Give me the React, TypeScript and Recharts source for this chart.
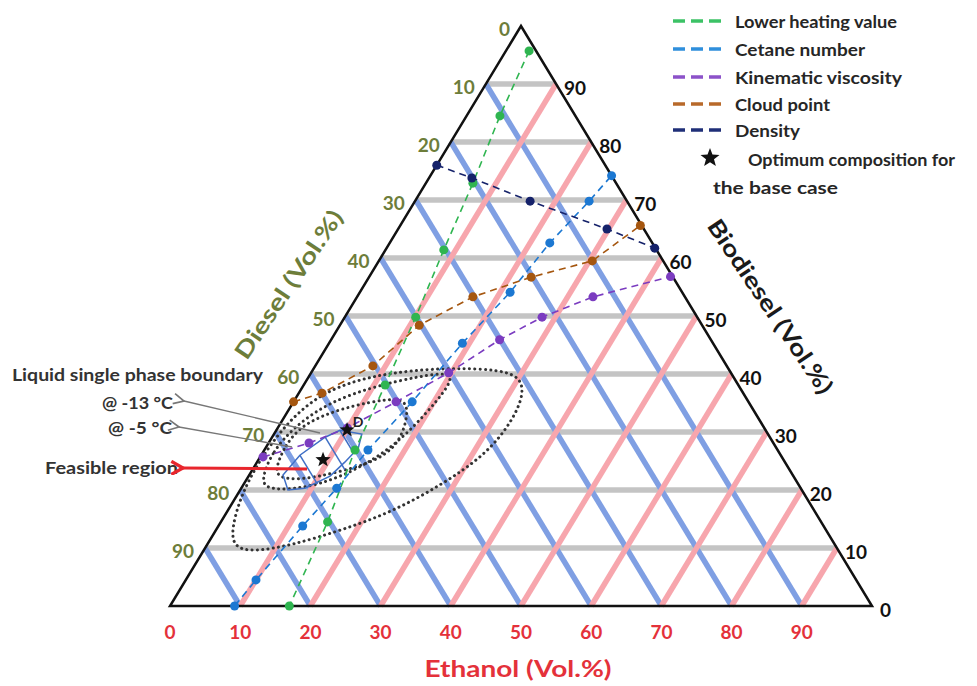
import React from "react";
import { ComposedChart, Line, Scatter, XAxis, YAxis } from "recharts";

// ternary points are [ethanol, biodiesel] in vol.% (diesel = 100 - both)
type Pt = [number, number];

const ethanolTicks = [0, 10, 20, 30, 40, 50, 60, 70, 80, 90];
const dieselTicks = [0, 10, 20, 30, 40, 50, 60, 70, 80, 90];
const biodieselTicks = [0, 10, 20, 30, 40, 50, 60, 70, 80, 90];
const gridLevels = [10, 20, 30, 40, 50, 60, 70, 80, 90];

const lowerHeatingValue: Pt[] = [
  [3.3, 95.7], [4.75, 84.5], [6.7, 72.9], [8.3, 61.4], [10.1, 49.8],
  [11.6, 38.1], [12.9, 26.9], [15.2, 14.5], [17.0, 0],
];
const cetaneNumber: Pt[] = [
  [9.2, 0], [10.0, 4.5], [12.0, 13.8], [13.6, 20.3], [14.75, 26.9], [16.9, 35.2],
  [19.0, 45.3], [21.4, 54.1], [22.8, 62.6], [24.8, 69.8], [25.8, 74.2],
];
const kinematicViscosity: Pt[] = [
  [0.4, 25.7], [5.75, 28.1], [9.9, 30.7], [14.6, 35.2], [19.6, 40.2],
  [24.0, 45.9], [28.1, 49.8], [33.6, 53.3], [42.9, 56.8],
];
const cloudPoint: Pt[] = [
  [0, 35.2], [3.3, 36.7], [8.2, 41.4], [11.3, 48.4], [16.5, 53.3],
  [23.1, 56.7], [30.4, 59.5], [34.2, 65.6],
];
const density: Pt[] = [[0, 76], [6.1, 73.8], [16.4, 69.8], [29.75, 65.0], [38.2, 61.7]];

// liquid single phase boundaries (dotted) and feasible region
const boundaryOuter: Pt[] = [
  [29.4, 40.3], [22.9, 41.0], [16.9, 40.9], [11.5, 40.2], [7.3, 39.0], [3.65, 36.9],
  [1.5, 33.4], [0.5, 29.0], [0.2, 23.8], [0.7, 18.6], [2.1, 13.4], [3.9, 10.2],
  [7.05, 9.3], [12.15, 10.5], [17.95, 13.1], [23.5, 16.2], [28.25, 20.9],
  [31.9, 26.0], [32.85, 31.7], [32.15, 36.9],
];
const boundaryMinus13: Pt[] = [
  [2.05, 22.1], [1.25, 26.55], [2.35, 31.2], [5.2, 35.2], [10.25, 37.9], [15.8, 39.65],
  [20.0, 40.35], [20.85, 38.1], [19.85, 32.9], [18.2, 27.75], [15.2, 23.8],
  [10.95, 20.9], [6.4, 20.0], [3.35, 20.35],
];
const boundaryMinus5: Pt[] = [
  [3.2, 23.45], [2.5, 27.75], [3.25, 31.4], [6.9, 33.8], [10.9, 35.2], [14.55, 35.85],
  [16.85, 34.65], [18.75, 28.6], [17.3, 25.2], [12.65, 23.1], [7.65, 21.7], [4.6, 22.1],
];
const feasibleRegion: Pt[] = [
  [4.8, 22.6], [5.5, 26.0], [7.55, 29.1], [9.05, 30.3], [12.5, 29.65], [13.2, 27.25],
  [12.5, 24.8], [11.6, 22.4], [9.05, 20.3], [6.8, 20.0],
];
const feasibleHatch: Pt[][] = [
  [[5.5, 26.0], [10.5, 21.0]],
  [[7.55, 29.1], [13.15, 23.5]],
  [[9.05, 30.3], [12.85, 26.5]],
];
const optimum: Pt[] = [[9.2, 25.2], [10.05, 30.35]];

const toXY = ([e, b]: Pt) => ({ x: e + b / 2, y: b });

const GREY = "#c4c4c4";
const BLUE = "#7f9fe3";
const PINK = "#f7a6ad";
const OLIVE = "#6d7d3a";
const RED = "#e4313a";
const FONT = "Lato, 'Open Sans', sans-serif";

const series = [
  { name: "Lower heating value", data: lowerHeatingValue, color: "#2fb550", legend: "#3cc266", w: 162 },
  { name: "Cetane number", data: cetaneNumber, color: "#1c78d2", legend: "#2f8fdc", w: 130 },
  { name: "Kinematic viscosity", data: kinematicViscosity, color: "#7b3cc0", legend: "#8c52c9", w: 167 },
  { name: "Cloud point", data: cloudPoint, color: "#a5560f", legend: "#b8692a", w: 95 },
  { name: "Density", data: density, color: "#15226a", legend: "#1f2f78", w: 65 },
];

const lineBase = {
  dataKey: "y",
  dot: false as const,
  activeDot: false as const,
  isAnimationActive: false,
  legendType: "none" as const,
};

function starPath(cx: number, cy: number, R: number) {
  const pts: string[] = [];
  for (let i = 0; i < 10; i++) {
    const r = i % 2 === 0 ? R : R * 0.42;
    const a = (-90 + i * 36) * (Math.PI / 180);
    pts.push(`${cx + r * Math.cos(a)},${cy + r * Math.sin(a)}`);
  }
  return `M${pts.join("L")}Z`;
}

const tickText = (dx: number, dy: number, anchor: string, color: string) => (p: any) => (
  <text
    x={p.cx + dx}
    y={p.cy + dy}
    textAnchor={anchor}
    dominantBaseline="central"
    fontFamily={FONT}
    fontWeight={700}
    fontSize={19}
    fill={color}
  >
    {p.payload.label}
  </text>
);

const txt = { fontFamily: FONT, fontWeight: 700, dominantBaseline: "central" as const };

function Overlay() {
  const legendY = [21, 49, 77, 104, 130];
  return (
    <svg width={977} height={686} style={{ position: "absolute", left: 0, top: 0, pointerEvents: "none" }}>
      <defs>
        <marker id="openArrow" markerWidth="10" markerHeight="10" refX="1" refY="5" orient="auto">
          <path d="M9,1 L1,5 L9,9" fill="none" stroke="#777" strokeWidth="1.3" />
        </marker>
        <marker id="redArrow" markerWidth="5" markerHeight="5" refX="0.6" refY="2.5" orient="auto">
          <path d="M4.5,0.3 L0.6,2.5 L4.5,4.7" fill="none" stroke="#e8262d" strokeWidth="1.1" />
        </marker>
      </defs>
      {series.map((s, i) => (
        <g key={s.name}>
          <line x1={673} x2={723} y1={legendY[i]} y2={legendY[i]} stroke={s.legend} strokeWidth={3.5} strokeDasharray="12 6" />
          <text {...txt} x={735} y={legendY[i]} fontSize={17} fill="#262626" textLength={s.w} lengthAdjust="spacingAndGlyphs">
            {s.name}
          </text>
        </g>
      ))}
      <path d={starPath(710, 158, 10)} fill="#111" />
      <text {...txt} x={748} y={159} fontSize={17} fill="#262626" textLength={207} lengthAdjust="spacingAndGlyphs">
        Optimum composition for
      </text>
      <text {...txt} x={713} y={187} fontSize={17} fill="#262626" textLength={125} lengthAdjust="spacingAndGlyphs">
        the base case
      </text>

      <text {...txt} x={518} y={668} textAnchor="middle" fontSize={23} fill={RED} textLength={187} lengthAdjust="spacingAndGlyphs">
        Ethanol (Vol.%)
      </text>
      <text {...txt} x={0} y={0} transform="translate(288,284) rotate(-56)" textAnchor="middle" fontSize={23} fill={OLIVE} textLength={174} lengthAdjust="spacingAndGlyphs">
        Diesel (Vol.%)
      </text>
      <text {...txt} x={0} y={0} transform="translate(771,306) rotate(56)" textAnchor="middle" fontSize={23} fill="#1a1a1a" textLength={205} lengthAdjust="spacingAndGlyphs">
        Biodiesel (Vol.%)
      </text>

      <text {...txt} x={12} y={374} fontSize={17} fill="#333" textLength={251} lengthAdjust="spacingAndGlyphs">
        Liquid single phase boundary
      </text>
      <text {...txt} x={102} y={402} fontSize={17} fill="#333" textLength={71} lengthAdjust="spacingAndGlyphs">
        @ -13 °C
      </text>
      <text {...txt} x={108} y={427} fontSize={17} fill="#333" textLength={64} lengthAdjust="spacingAndGlyphs">
        @ -5 °C
      </text>
      <text {...txt} x={45} y={467} fontSize={17} fill="#333" textLength={133} lengthAdjust="spacingAndGlyphs">
        Feasible region
      </text>
      <line x1={320} y1={433} x2={184} y2={401} stroke="#777" strokeWidth={1.3} markerEnd="url(#openArrow)" />
      <line x1={292} y1={447} x2={179} y2={427} stroke="#777" strokeWidth={1.3} markerEnd="url(#openArrow)" />
      <line x1={307} y1={469} x2={183} y2={468} stroke="#e8262d" strokeWidth={3} markerEnd="url(#redArrow)" />
      <text {...txt} x={358} y={421} textAnchor="middle" fontSize={14} fill="#222">
        D
      </text>
    </svg>
  );
}

export default function App() {
  const gridLines: { key: string; data: { x: number; y: number }[]; color: string }[] = [];
  gridLevels.forEach((l) => gridLines.push({ key: `b${l}`, data: [toXY([0, l]), toXY([100 - l, l])], color: GREY }));
  gridLevels.forEach((l) => gridLines.push({ key: `d${l}`, data: [toXY([0, 100 - l]), toXY([100 - l, 0])], color: BLUE }));
  gridLevels.forEach((l) => gridLines.push({ key: `e${l}`, data: [toXY([l, 0]), toXY([l, 100 - l])], color: PINK }));

  const dotted = { stroke: "#333", strokeWidth: 3, strokeDasharray: "0.1 5.2", strokeLinecap: "round" as const };

  return (
    <div style={{ position: "absolute", left: 0, top: 0, width: 977, height: 686, background: "#fff" }}>
      <ComposedChart width={977} height={686} margin={{ top: 26, right: 105, bottom: 80, left: 170 }}>
        <XAxis type="number" dataKey="x" domain={[0, 100]} hide />
        <YAxis type="number" dataKey="y" domain={[0, 100]} hide />
        {gridLines.map((g) => (
          <Line key={g.key} {...lineBase} data={g.data} stroke={g.color} strokeWidth={5.5} type="linear" />
        ))}
        <Line {...lineBase} data={[toXY([0, 0]), toXY([100, 0]), toXY([0, 100])]} type="linearClosed" stroke="#111" strokeWidth={2.5} />
        <Line {...lineBase} data={boundaryOuter.map(toXY)} type="basisClosed" {...dotted} />
        <Line {...lineBase} data={boundaryMinus13.map(toXY)} type="basisClosed" {...dotted} />
        <Line {...lineBase} data={boundaryMinus5.map(toXY)} type="basisClosed" {...dotted} />
        <Line {...lineBase} data={feasibleRegion.map(toXY)} type="linearClosed" stroke="#3f6fc6" strokeWidth={1.5} />
        {feasibleHatch.map((h, i) => (
          <Line key={`h${i}`} {...lineBase} data={h.map(toXY)} type="linear" stroke="#3f6fc6" strokeWidth={1.5} />
        ))}
        {series.map((s) => (
          <Line
            key={s.name}
            {...lineBase}
            data={s.data.map(toXY)}
            type="linear"
            stroke={s.color}
            strokeWidth={1.6}
            strokeDasharray="7 5"
            dot={{ r: 4.5, fill: s.color, stroke: s.color, strokeWidth: 0 }}
          />
        ))}
        <Scatter
          data={optimum.map(toXY)}
          isAnimationActive={false}
          shape={(p: any) => <path d={starPath(p.cx, p.cy, 8)} fill="#111" />}
        />
        <Scatter
          data={ethanolTicks.map((e) => ({ ...toXY([e, 0]), label: String(e) }))}
          isAnimationActive={false}
          shape={tickText(0, 25, "middle", RED)}
        />
        <Scatter
          data={dieselTicks.map((d) => ({ ...toXY([0, 100 - d]), label: String(d) }))}
          isAnimationActive={false}
          shape={tickText(-11, 2, "end", OLIVE)}
        />
        <Scatter
          data={biodieselTicks.map((b) => ({ ...toXY([100 - b, b]), label: String(b) }))}
          isAnimationActive={false}
          shape={tickText(8, 3, "start", "#111")}
        />
      </ComposedChart>
      <Overlay />
    </div>
  );
}
